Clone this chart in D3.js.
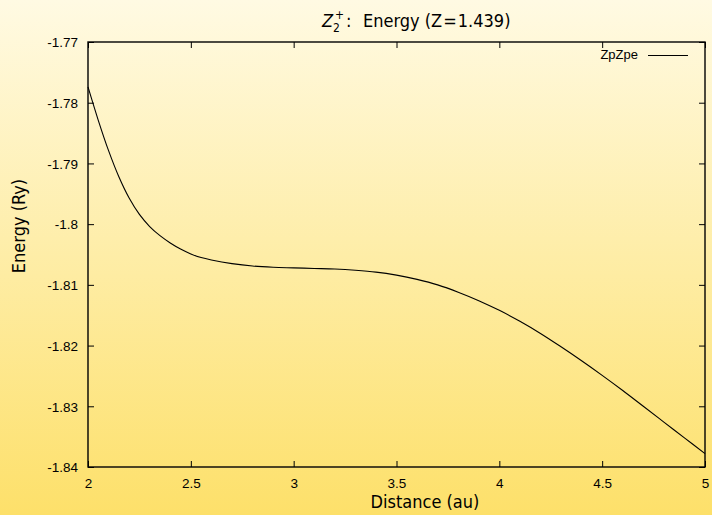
<!DOCTYPE html>
<html><head><meta charset="utf-8">
<script src="https://cdn.jsdelivr.net/npm/d3@7"></script>
<style>body{margin:0;padding:0;}svg{display:block;}</style>
</head><body>
<script>
const xTicks = [2, 2.5, 3, 3.5, 4, 4.5, 5];
const yTicks = [-1.77, -1.78, -1.79, -1.80, -1.81, -1.82, -1.83, -1.84];
const yTickLabels = ["-1.77","-1.78","-1.79","-1.8","-1.81","-1.82","-1.83","-1.84"];
const xTickLabels = ["2","2.5","3","3.5","4","4.5","5"];
const distance = [2.0,2.05,2.1,2.15,2.2,2.25,2.3,2.35,2.4,2.45,2.5,2.55,2.6,2.7,2.8,2.9,3.0,3.1,3.2,3.3,3.4,3.5,3.6,3.7,3.8,3.9,4.0,4.1,4.2,4.3,4.4,4.5,4.6,4.7,4.8,4.9,5.0];
const energy = [-1.7774,-1.7829,-1.7879,-1.7922,-1.7957,-1.7984,-1.8004,-1.8019,-1.8031,-1.8041,-1.8049,-1.8055,-1.8059,-1.8065,-1.8069,-1.8071,-1.8072,-1.8073,-1.8074,-1.8076,-1.8079,-1.8084,-1.8091,-1.8100,-1.8112,-1.8126,-1.8142,-1.8160,-1.8180,-1.8202,-1.8225,-1.8249,-1.8274,-1.8300,-1.8326,-1.8352,-1.8378];
const seriesName = "ZpZpe";

const W = 712, H = 515;
const m = {left: 88, right: 705, top: 42, bottom: 467};
const svg = d3.select("body").append("svg").attr("width", W).attr("height", H);
const defs = svg.append("defs");
const grad = defs.append("linearGradient").attr("id","bg").attr("x1",0).attr("y1",0).attr("x2",0).attr("y2",1);
grad.append("stop").attr("offset","0%").attr("stop-color","#fffae3");
grad.append("stop").attr("offset","100%").attr("stop-color","#fde06a");
svg.append("rect").attr("width",W).attr("height",H).attr("fill","url(#bg)");

const x = d3.scaleLinear().domain([2,5]).range([m.left, m.right]);
const y = d3.scaleLinear().domain([-1.84,-1.77]).range([m.bottom, m.top]);
const tickFont = "'Liberation Sans', Arial, sans-serif";
const texFont = "'DejaVu Sans Condensed', 'DejaVu Sans', sans-serif";

const tl = 6;
const bottomAxis = d3.axisBottom(x).tickValues(xTicks).tickSize(-tl).tickPadding(11).tickFormat((d,i)=>xTickLabels[i]);
const gB = svg.append("g").attr("transform",`translate(0,${m.bottom})`).call(bottomAxis);
const topAxis = d3.axisTop(x).tickValues(xTicks).tickSize(-tl).tickFormat("");
const gT = svg.append("g").attr("transform",`translate(0,${m.top})`).call(topAxis);
const leftAxis = d3.axisLeft(y).tickValues(yTicks).tickSize(-tl).tickPadding(10).tickFormat((d,i)=>yTickLabels[i]);
const gL = svg.append("g").attr("transform",`translate(${m.left},0)`).call(leftAxis);
const rightAxis = d3.axisRight(y).tickValues(yTicks).tickSize(-tl).tickFormat("");
const gR = svg.append("g").attr("transform",`translate(${m.right},0)`).call(rightAxis);
[gB,gT,gL,gR].forEach(g=>{
  g.select(".domain").remove();
  g.selectAll(".tick line").attr("stroke","#000").attr("stroke-width",1);
  g.selectAll("text").attr("font-family",tickFont).attr("font-size",13.5).attr("fill","#000");
});
gL.selectAll("text").attr("dy","0.35em");

svg.append("rect").attr("x",m.left).attr("y",m.top).attr("width",m.right-m.left).attr("height",m.bottom-m.top)
  .attr("fill","none").attr("stroke","#000").attr("stroke-width",1.4);

const data = distance.map((d,i)=>({x:d,y:energy[i]}));
const line = d3.line().x(d=>x(d.x)).y(d=>y(d.y)).curve(d3.curveCatmullRom.alpha(0.5));
svg.append("path").datum(data).attr("d",line).attr("fill","none").attr("stroke","#000").attr("stroke-width",1.1);

svg.append("text").attr("x",638).attr("y",59).attr("text-anchor","end")
  .attr("font-family",tickFont).attr("font-size",13).text(seriesName);
svg.append("line").attr("x1",648).attr("x2",688).attr("y1",55.5).attr("y2",55.5).attr("stroke","#000").attr("stroke-width",1);

// title
const t = svg.append("text").attr("x",322).attr("y",27)
  .attr("font-family",texFont).attr("font-size",18).attr("fill","#000");
t.append("tspan").attr("font-style","italic").text("Z");
const zEnd = 335;
svg.append("text").attr("x",zEnd).attr("y",19).attr("font-family",texFont).attr("font-size",12).text("+");
svg.append("text").attr("x",zEnd-2).attr("y",32).attr("font-family",texFont).attr("font-size",12).text("2");
svg.append("text").attr("x",346).attr("y",27).attr("font-family",texFont).attr("font-size",18).text(":");
const t2 = svg.append("text").attr("x",363).attr("y",27)
  .attr("font-family",texFont).attr("font-size",18).attr("fill","#000");
t2.append("tspan").text("Energy (Z");
t2.append("tspan").attr("dx",1).text("=");
t2.append("tspan").attr("dx",1).text("1.439)");

svg.append("text").attr("x",425).attr("y",508).attr("text-anchor","middle")
  .attr("font-family",texFont).attr("font-size",18).text("Distance (au)");
svg.append("text").attr("transform","translate(25,226) rotate(-90)").attr("text-anchor","middle")
  .attr("font-family",texFont).attr("font-size",18).text("Energy (Ry)");
</script>
</body></html>
